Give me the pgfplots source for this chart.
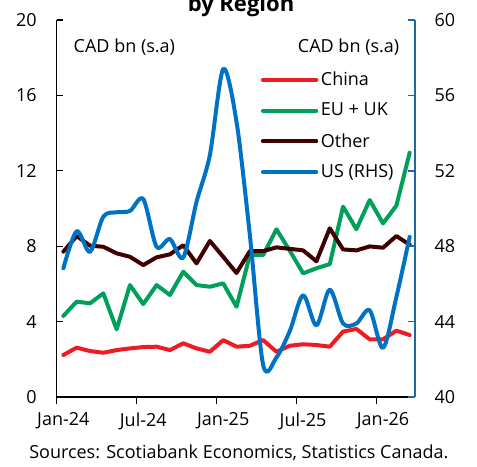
\documentclass[border=0pt]{standalone}
\usepackage{fontspec}
\setmainfont{Open Sans}
\usepackage{pgfplots}
\pgfplotsset{compat=1.18}
\definecolor{cnred}{RGB}{237,28,36}
\definecolor{eugreen}{RGB}{0,160,90}
\definecolor{othbrown}{RGB}{64,0,0}
\definecolor{usblue}{RGB}{0,114,198}
\definecolor{rhsaxis}{RGB}{31,105,160}

% months: x = month index + 0.5 (Jan-24 = 0.5)
\pgfplotstableread{
x     china  euuk   other
0.5   2.23   4.30   7.71
1.5   2.62   5.06   8.54
2.5   2.44   4.97   8.03
3.5   2.35   5.50   7.97
4.5   2.49   3.59   7.62
5.5   2.58   5.94   7.44
6.5   2.65   4.93   7.00
7.5   2.67   5.94   7.41
8.5   2.49   5.41   7.57
9.5   2.85   6.65   8.05
10.5  2.58   5.94   7.09
11.5  2.40   5.85   8.28
12.5  3.02   6.03   7.44
13.5  2.67   4.79   6.58
14.5  2.72   7.53   7.74
15.5  3.02   7.53   7.74
16.5  2.40   8.90   7.94
17.5  2.72   7.76   7.86
18.5  2.80   6.56   7.78
19.5  2.76   6.83   7.20
20.5  2.67   7.05   8.95
21.5  3.47  10.10   7.83
22.5  3.61   8.90   7.78
23.5  3.06  10.45   7.99
24.5  3.06   9.21   7.92
25.5  3.52  10.15   8.54
26.5  3.29  12.96   8.08
}\leftdata

\pgfplotstableread{
x     us
0.5   46.83
1.5   48.80
2.5   47.70
3.5   49.57
4.5   49.80
5.5   49.87
6.5   50.50
7.5   47.97
8.5   48.38
9.5   47.40
10.5  50.36
11.5  52.84
12.5  57.40
13.5  54.60
14.5  48.60
15.5  41.70
16.5  42.10
17.5  43.50
18.5  45.40
19.5  43.80
20.5  45.70
21.5  43.90
22.5  43.90
23.5  44.60
24.5  42.60
25.5  45.30
26.5  48.50
}\usdata

\begin{document}
\begin{tikzpicture}[font=\fontsize{13.5}{16}\selectfont]
\pgfplotsset{
  every axis/.append style={
    scale only axis, width=268.7pt, height=282.75pt,
    at={(0,0)}, anchor=south west,
    xmin=0, xmax=26.9,
    tick align=inside, major tick length=5pt,
    /pgf/number format/assume math mode=true,
    tick label style={font=\fontsize{13.5}{16}\selectfont},
    every axis plot/.append style={line width=3pt, line join=round, line cap=round},
  }
}
\begin{axis}[
  ymin=0, ymax=20, ytick={0,4,...,20},
  axis x line*=bottom, axis y line*=left,
  axis line style={black, line width=0.9pt, -},
  xtick={0,6,12,18,24},
  xticklabels={Jan-24,Jul-24,Jan-25,Jul-25,Jan-26},
  x tick style={yshift=-5pt, black, line width=0.9pt},
  y tick style={black, line width=0.9pt},
  xticklabel style={xshift=5pt, yshift=-8.3pt},
  yticklabel style={xshift=-11.5pt},
]
\addplot[cnred] table[x=x, y=china] {\leftdata};
\addplot[eugreen] table[x=x, y=euuk] {\leftdata};
\addplot[othbrown] table[x=x, y=other] {\leftdata};
\end{axis}
\begin{axis}[
  clip=false,
  ymin=40, ymax=60, ytick={40,44,...,60},
  axis x line=none, axis y line*=right,
  y axis line style={rhsaxis, line width=1.5pt, -},
  y tick style={rhsaxis, line width=1.2pt},
  yticklabel style={xshift=11.2pt},
  legend style={draw=none, fill=none, at={(0.558,0.877)}, anchor=north west,
    row sep=7.6pt, font=\fontsize{13.5}{16}\selectfont},
  legend cell align=left,
  legend image code/.code={\draw[#1, line cap=round] (0pt,0pt) -- (40pt,0pt);},
]
\addlegendimage{cnred, line width=3pt}
\addlegendentry{China}
\addlegendimage{eugreen, line width=3pt}
\addlegendentry{EU + UK}
\addlegendimage{othbrown, line width=3pt}
\addlegendentry{Other}
\addplot[usblue, smooth] table[x=x, y=us] {\usdata};
\addlegendentry{US (RHS)}
\coordinate (bbsw) at (rel axis cs:-0.15825,-0.18302);
\coordinate (bbne) at (rel axis cs:1.17304,1.05305);
\node[anchor=base west] at (rel axis cs:0.03433,0.91247) {CAD bn (s.a)};
\node[anchor=base east] at (rel axis cs:0.96930,0.91247) {CAD bn (s.a)};
\node[anchor=base, font=\fontsize{16.5}{20}\selectfont\bfseries] at (rel axis cs:0.51437,1.02122) {by Region};
\node[anchor=base west, inner sep=0pt] at (rel axis cs:-0.07731,-0.16180) {Sources: Scotiabank Economics, Statistics Canada.};
\end{axis}
\pgfresetboundingbox
\useasboundingbox (bbsw) rectangle (bbne);
\end{tikzpicture}
\end{document}
